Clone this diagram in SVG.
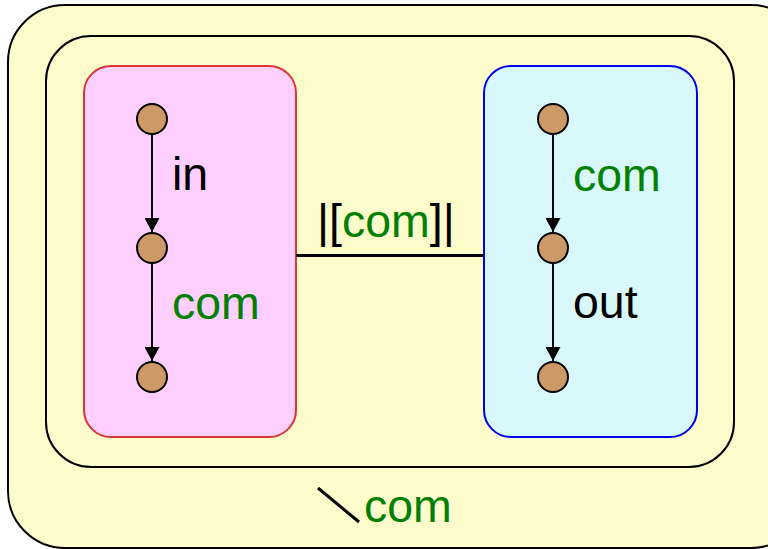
<svg xmlns="http://www.w3.org/2000/svg" width="768" height="549" viewBox="0 0 768 549">
  <defs>
    <marker id="arrow" viewBox="0 0 14 15" refX="14" refY="7.5" markerWidth="14" markerHeight="15" markerUnits="userSpaceOnUse" orient="auto">
      <path d="M0,0 L14,7.5 L0,15 Z" fill="#000"/>
    </marker>
    <style>
      .frame { fill: #fffccc; stroke: #000; stroke-width: 2; }
      .state { fill: #cd9966; stroke: #000; stroke-width: 2; }
      .edge { stroke: #000; stroke-width: 2; fill: none; marker-end: url(#arrow); }
      .lbl { font-family: "Liberation Sans", Arial, sans-serif; font-size: 46.5px; }
      .ev { fill: #000; }
      .ch { fill: #008000; }
    </style>
  </defs>

  <!-- outer hiding context -->
  <g id="hide">
    <rect class="frame" x="8" y="5" width="800" height="543" rx="57" ry="57"/>
    <line x1="318" y1="488" x2="359" y2="522" stroke="#000" stroke-width="3"/>
    <text class="lbl ch" x="364" y="522">com</text>
  </g>

  <!-- parallel composition -->
  <g id="par">
    <rect class="frame" x="46" y="36" width="688" height="431" rx="45" ry="45"/>
  </g>

  <!-- left process -->
  <g id="procP">
    <rect x="84" y="66" width="212" height="371" rx="27" ry="27" fill="#ffd0ff" stroke="#d83838" stroke-width="2"/>
  </g>

  <!-- right process -->
  <g id="procQ">
    <rect x="484" y="66" width="213" height="371" rx="27" ry="27" fill="#d8f8fc" stroke="#0000ee" stroke-width="2"/>
  </g>

  <!-- transitions and synchronisation bar -->
  <g id="connectors">
    <line x1="152" y1="134" x2="152" y2="232" class="edge"/>
    <line x1="152" y1="263" x2="152" y2="361" class="edge"/>
    <line x1="553" y1="134" x2="553" y2="232" class="edge"/>
    <line x1="553" y1="263" x2="553" y2="361" class="edge"/>
    <line x1="296" y1="255.5" x2="484" y2="255.5" stroke="#000" stroke-width="3"/>
    <text class="lbl ev" x="172" y="190">in</text>
    <text class="lbl ch" x="172" y="319">com</text>
    <text class="lbl ch" x="573" y="191">com</text>
    <text class="lbl ev" x="573" y="318">out</text>
    <text class="lbl" x="317" y="237"><tspan class="ev">|[</tspan><tspan class="ch">com</tspan><tspan class="ev">]|</tspan></text>
  </g>

  <g id="p0"><circle class="state" cx="152" cy="119" r="15"/></g>
  <g id="p1"><circle class="state" cx="152" cy="248" r="15"/></g>
  <g id="p2"><circle class="state" cx="152" cy="377" r="15"/></g>
  <g id="q0"><circle class="state" cx="553" cy="119" r="15"/></g>
  <g id="q1"><circle class="state" cx="553" cy="248" r="15"/></g>
  <g id="q2"><circle class="state" cx="553" cy="377" r="15"/></g>
</svg>
